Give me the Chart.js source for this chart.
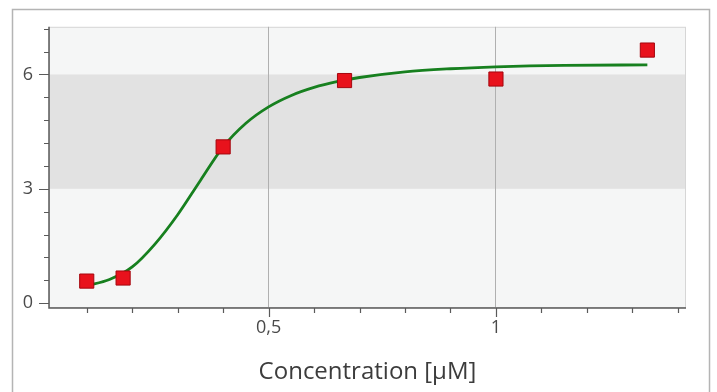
<!DOCTYPE html>
<html>
<head>
<meta charset="utf-8">
<script src="https://cdn.jsdelivr.net/npm/chart.js@4.4.3/dist/chart.umd.min.js"></script>
<style>
  html, body { margin: 0; padding: 0; background: #fff; }
  #wrap { width: 717px; height: 392px; position: relative; }
</style>
</head>
<body>
<div id="wrap"><canvas id="doseChart" width="717" height="392"></canvas></div>
<script>
// measured points
const concentrations = [0.1, 0.18, 0.4, 0.667, 1.0, 1.333];
const responses = [0.58, 0.66, 4.10, 5.84, 5.88, 6.64];

// fitted curve
const fitX = [0.1, 0.15, 0.2, 0.25, 0.3, 0.35, 0.4, 0.45, 0.5, 0.55, 0.6, 0.65, 0.7, 0.8, 0.9, 1.0, 1.15, 1.333];
const fitY = [0.46, 0.62, 0.95, 1.55, 2.32, 3.22, 4.10, 4.72, 5.15, 5.45, 5.66, 5.81, 5.92, 6.07, 6.15, 6.20, 6.24, 6.25];

// axis ticks
const xTicks = [0.1, 0.2, 0.3, 0.4, 0.5, 0.6, 0.7, 0.8, 0.9, 1.0, 1.1, 1.2, 1.3, 1.4];
const xLabels = { '0.5': '0,5', '1': '1' };
const yTicks = [0, 0.6, 1.2, 1.8, 2.4, 3, 3.6, 4.2, 4.8, 5.4, 6, 6.6, 7.2];
const yLabels = [0, 3, 6];
const bandFrom = 3, bandTo = 6;

const ctx = document.getElementById('doseChart');

const frameAndBand = {
    id: 'frameAndBand',
    beforeDraw(chart) {
        const { ctx, chartArea: a, scales } = chart;
        ctx.save();
        ctx.strokeStyle = '#b4b4b4';
        ctx.lineWidth = 1.5;
        ctx.strokeRect(12.5, 9.5, 697, 400);
        ctx.fillStyle = '#f5f6f6';
        ctx.fillRect(a.left, a.top, a.right - a.left, a.bottom - a.top);
        const yTop = scales.y.getPixelForValue(bandTo);
        const yBot = scales.y.getPixelForValue(bandFrom);
        ctx.fillStyle = '#e2e2e2';
        ctx.fillRect(a.left, yTop, a.right - a.left, yBot - yTop);
        ctx.strokeStyle = '#d6d6d6';
        ctx.lineWidth = 1;
        ctx.strokeRect(a.left + 0.5, a.top + 0.5, a.right - a.left - 1, a.bottom - a.top);
        ctx.restore();
    },
    afterDraw(chart) {
        const { ctx, chartArea: a, scales } = chart;
        ctx.save();
        ctx.strokeStyle = '#5a5a5a';
        ctx.lineWidth = 1.5;
        ctx.beginPath();
        ctx.moveTo(a.left, a.top);
        ctx.lineTo(a.left, a.bottom + 1);
        ctx.lineTo(a.right, a.bottom + 1);
        ctx.stroke();
        ctx.lineWidth = 1.2;
        ctx.beginPath();
        yTicks.forEach(v => {
            const y = Math.round(scales.y.getPixelForValue(v)) + 0.5;
            const len = yLabels.includes(v) ? 10 : 5;
            ctx.moveTo(a.left - len, y);
            ctx.lineTo(a.left, y);
        });
        xTicks.forEach(v => {
            const x = Math.round(scales.x.getPixelForValue(v)) + 0.5;
            const len = xLabels[String(v)] ? 9 : 5;
            ctx.moveTo(x, a.bottom + 1);
            ctx.lineTo(x, a.bottom + 1 + len);
        });
        ctx.stroke();
        ctx.restore();
    }
};

new Chart(ctx, {
    type: 'scatter',
    data: {
        datasets: [{
            label: 'Messwerte',
            data: concentrations.map((c, i) => ({ x: c, y: responses[i] })),
            pointStyle: 'rect',
            pointRadius: 10,
            pointHoverRadius: 10,
            backgroundColor: '#e8121c',
            borderColor: '#a5060e',
            borderWidth: 1,
            order: 0
        }, {
            label: 'Fit',
            data: fitX.map((c, i) => ({ x: c, y: fitY[i] })),
            showLine: true,
            pointRadius: 0,
            borderColor: '#17801f',
            borderWidth: 2.8,
            cubicInterpolationMode: 'monotone',
            order: 1
        }]
    },
    options: {
        responsive: false,
        animation: false,
        layout: { padding: { left: 0, top: 25, right: 31, bottom: 0 } },
        plugins: { legend: { display: false }, tooltip: { enabled: false } },
        scales: {
            x: {
                type: 'linear',
                min: 0.017,
                max: 1.418,
                afterFit: (scale) => { scale.height = 85; },
                afterBuildTicks: (scale) => { scale.ticks = xTicks.map(v => ({ value: v })); },
                border: { display: false },
                grid: {
                    drawTicks: false,
                    color: (c) => xLabels[String(c.tick && c.tick.value)] ? '#b0b0b0' : 'rgba(0,0,0,0)',
                    lineWidth: 1
                },
                ticks: {
                    padding: 10,
                    autoSkip: false,
                    maxRotation: 0,
                    color: '#4a4a4a',
                    font: { family: 'Open Sans', size: 18 },
                    callback: (v) => xLabels[String(v)] || ''
                },
                title: {
                    display: true,
                    text: 'Concentration [µM]',
                    color: '#3c3c3c',
                    font: { family: 'Open Sans', size: 24 },
                    padding: { top: 0, bottom: 5 }
                }
            },
            y: {
                type: 'linear',
                min: -0.1,
                max: 7.25,
                afterFit: (scale) => { scale.width = 49; },
                afterBuildTicks: (scale) => { scale.ticks = yTicks.map(v => ({ value: v })); },
                border: { display: false },
                grid: { display: false, drawTicks: false },
                ticks: {
                    padding: 16,
                    autoSkip: false,
                    color: '#4a4a4a',
                    font: { family: 'Open Sans', size: 18 },
                    callback: (v) => yLabels.includes(v) ? String(v) : ''
                }
            }
        }
    },
    plugins: [frameAndBand]
});
</script>
</body>
</html>
